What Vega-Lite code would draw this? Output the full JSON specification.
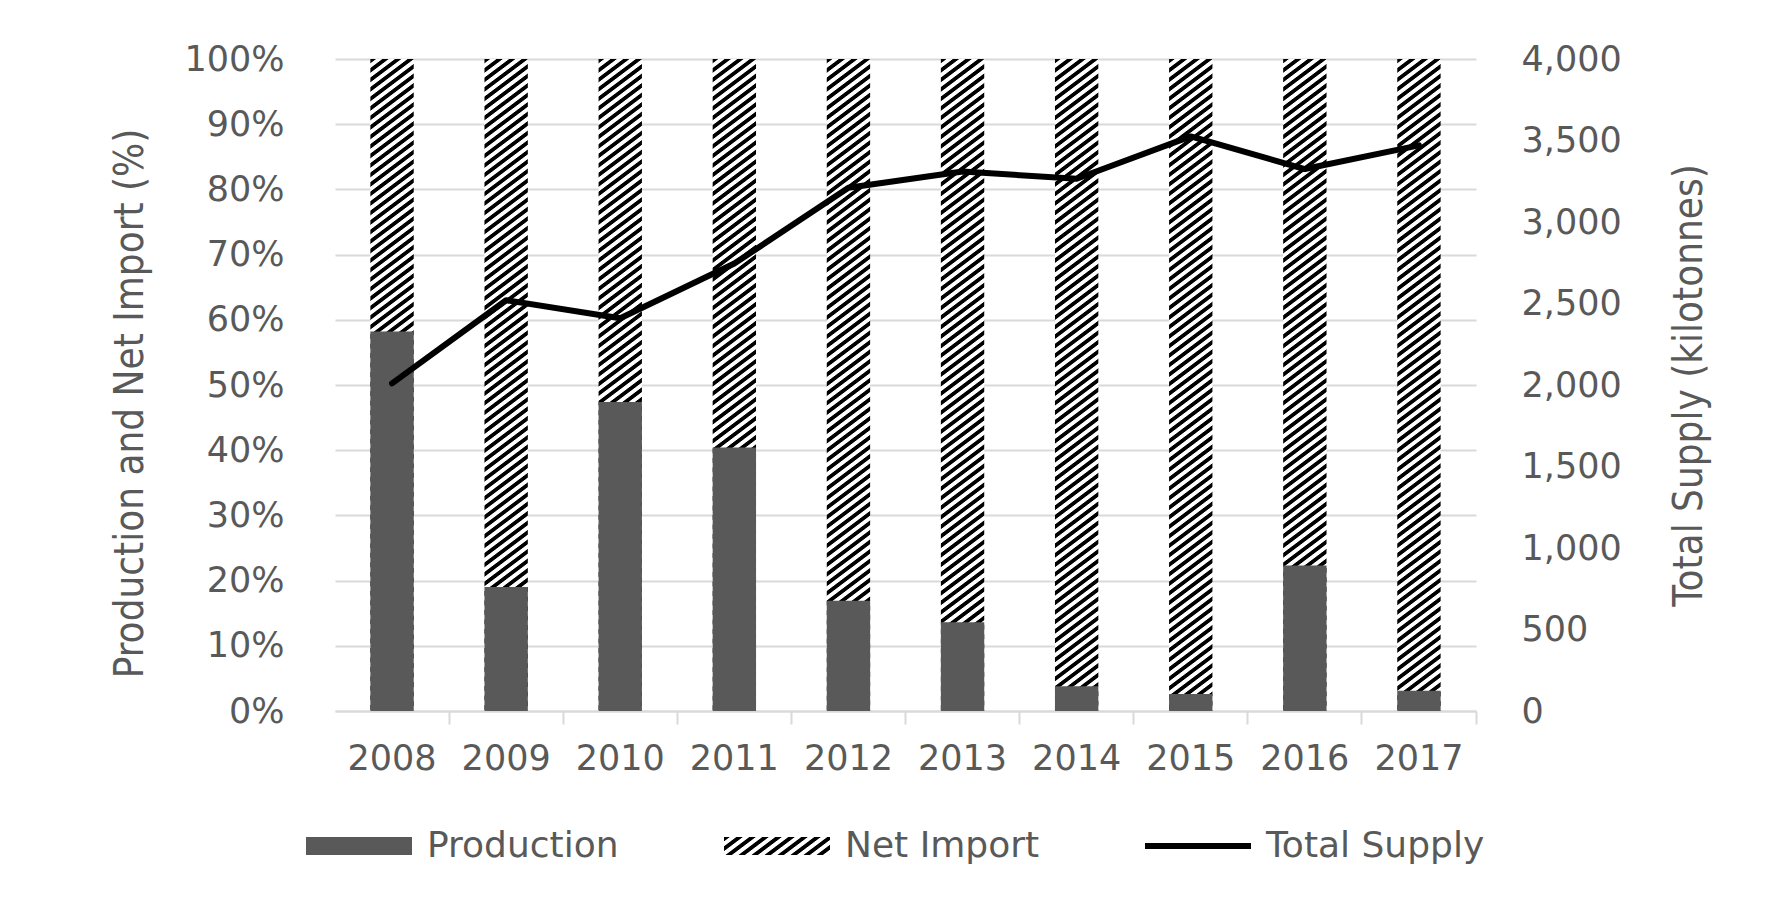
{
  "$schema": "https://vega.github.io/schema/vega-lite/v6.json",
  "width": 1141,
  "height": 652,
  "autosize": {"type": "none"},
  "padding": {"left": 335, "top": 59, "right": 304, "bottom": 191},
  "background": "#ffffff",
  "params": [
    {
      "name": "legendHatch",
      "value": {
        "gradient": "linear", "x1": 0, "y1": 0, "x2": 1.1665, "y2": 0.2637,
        "stops": [
          {"offset": 0, "color": "#000"}, {"offset": 0.04, "color": "#000"}, {"offset": 0.05, "color": "#fff"}, {"offset": 0.09, "color": "#fff"},
          {"offset": 0.1, "color": "#000"}, {"offset": 0.14, "color": "#000"}, {"offset": 0.15, "color": "#fff"}, {"offset": 0.19, "color": "#fff"},
          {"offset": 0.2, "color": "#000"}, {"offset": 0.24, "color": "#000"}, {"offset": 0.25, "color": "#fff"}, {"offset": 0.29, "color": "#fff"},
          {"offset": 0.3, "color": "#000"}, {"offset": 0.34, "color": "#000"}, {"offset": 0.35, "color": "#fff"}, {"offset": 0.39, "color": "#fff"},
          {"offset": 0.4, "color": "#000"}, {"offset": 0.44, "color": "#000"}, {"offset": 0.45, "color": "#fff"}, {"offset": 0.49, "color": "#fff"},
          {"offset": 0.5, "color": "#000"}, {"offset": 0.54, "color": "#000"}, {"offset": 0.55, "color": "#fff"}, {"offset": 0.59, "color": "#fff"},
          {"offset": 0.6, "color": "#000"}, {"offset": 0.64, "color": "#000"}, {"offset": 0.65, "color": "#fff"}, {"offset": 0.69, "color": "#fff"},
          {"offset": 0.7, "color": "#000"}, {"offset": 0.74, "color": "#000"}, {"offset": 0.75, "color": "#fff"}, {"offset": 0.79, "color": "#fff"},
          {"offset": 0.8, "color": "#000"}, {"offset": 0.84, "color": "#000"}, {"offset": 0.85, "color": "#fff"}, {"offset": 0.89, "color": "#fff"},
          {"offset": 0.9, "color": "#000"}, {"offset": 0.94, "color": "#000"}, {"offset": 0.95, "color": "#fff"}, {"offset": 0.99, "color": "#fff"},
          {"offset": 1, "color": "#000"}
        ]
      }
    }
  ],
  "datasets": {
    "shares": [
      {"year": "2008", "component": "Production", "share": 58.2},
      {"year": "2008", "component": "Net Import", "share": 41.8},
      {"year": "2009", "component": "Production", "share": 19.0},
      {"year": "2009", "component": "Net Import", "share": 81.0},
      {"year": "2010", "component": "Production", "share": 47.4},
      {"year": "2010", "component": "Net Import", "share": 52.6},
      {"year": "2011", "component": "Production", "share": 40.4},
      {"year": "2011", "component": "Net Import", "share": 59.6},
      {"year": "2012", "component": "Production", "share": 16.9},
      {"year": "2012", "component": "Net Import", "share": 83.1},
      {"year": "2013", "component": "Production", "share": 13.6},
      {"year": "2013", "component": "Net Import", "share": 86.4},
      {"year": "2014", "component": "Production", "share": 3.8},
      {"year": "2014", "component": "Net Import", "share": 96.2},
      {"year": "2015", "component": "Production", "share": 2.6},
      {"year": "2015", "component": "Net Import", "share": 97.4},
      {"year": "2016", "component": "Production", "share": 22.3},
      {"year": "2016", "component": "Net Import", "share": 77.7},
      {"year": "2017", "component": "Production", "share": 3.1},
      {"year": "2017", "component": "Net Import", "share": 96.9}
    ],
    "supply": [
      {"year": "2008", "supply": 2010},
      {"year": "2009", "supply": 2520},
      {"year": "2010", "supply": 2410},
      {"year": "2011", "supply": 2745},
      {"year": "2012", "supply": 3210},
      {"year": "2013", "supply": 3310},
      {"year": "2014", "supply": 3265},
      {"year": "2015", "supply": 3525},
      {"year": "2016", "supply": 3325},
      {"year": "2017", "supply": 3470}
    ]
  },
  "layer": [
    {
      "data": {"name": "shares"},
      "layer": [
        {
          "mark": {
            "type": "bar",
            "fill": {
              "gradient": "linear", "x1": 0, "y1": 0, "x2": 0.0524, "y2": 1.0474,
              "stops": [
                {"offset": 0, "color": "#000"}, {"offset": 0.00556, "color": "#000"}, {"offset": 0.00694, "color": "#fff"}, {"offset": 0.0125, "color": "#fff"},
                {"offset": 0.01389, "color": "#000"}, {"offset": 0.01944, "color": "#000"}, {"offset": 0.02083, "color": "#fff"}, {"offset": 0.02639, "color": "#fff"},
                {"offset": 0.02778, "color": "#000"}, {"offset": 0.03333, "color": "#000"}, {"offset": 0.03472, "color": "#fff"}, {"offset": 0.04028, "color": "#fff"},
                {"offset": 0.04167, "color": "#000"}, {"offset": 0.04722, "color": "#000"}, {"offset": 0.04861, "color": "#fff"}, {"offset": 0.05417, "color": "#fff"},
                {"offset": 0.05556, "color": "#000"}, {"offset": 0.06111, "color": "#000"}, {"offset": 0.0625, "color": "#fff"}, {"offset": 0.06806, "color": "#fff"},
                {"offset": 0.06944, "color": "#000"}, {"offset": 0.075, "color": "#000"}, {"offset": 0.07639, "color": "#fff"}, {"offset": 0.08194, "color": "#fff"},
                {"offset": 0.08333, "color": "#000"}, {"offset": 0.08889, "color": "#000"}, {"offset": 0.09028, "color": "#fff"}, {"offset": 0.09583, "color": "#fff"},
                {"offset": 0.09722, "color": "#000"}, {"offset": 0.10278, "color": "#000"}, {"offset": 0.10417, "color": "#fff"}, {"offset": 0.10972, "color": "#fff"},
                {"offset": 0.11111, "color": "#000"}, {"offset": 0.11667, "color": "#000"}, {"offset": 0.11806, "color": "#fff"}, {"offset": 0.12361, "color": "#fff"},
                {"offset": 0.125, "color": "#000"}, {"offset": 0.13056, "color": "#000"}, {"offset": 0.13194, "color": "#fff"}, {"offset": 0.1375, "color": "#fff"},
                {"offset": 0.13889, "color": "#000"}, {"offset": 0.14444, "color": "#000"}, {"offset": 0.14583, "color": "#fff"}, {"offset": 0.15139, "color": "#fff"},
                {"offset": 0.15278, "color": "#000"}, {"offset": 0.15833, "color": "#000"}, {"offset": 0.15972, "color": "#fff"}, {"offset": 0.16528, "color": "#fff"},
                {"offset": 0.16667, "color": "#000"}, {"offset": 0.17222, "color": "#000"}, {"offset": 0.17361, "color": "#fff"}, {"offset": 0.17917, "color": "#fff"},
                {"offset": 0.18056, "color": "#000"}, {"offset": 0.18611, "color": "#000"}, {"offset": 0.1875, "color": "#fff"}, {"offset": 0.19306, "color": "#fff"},
                {"offset": 0.19444, "color": "#000"}, {"offset": 0.2, "color": "#000"}, {"offset": 0.20139, "color": "#fff"}, {"offset": 0.20694, "color": "#fff"},
                {"offset": 0.20833, "color": "#000"}, {"offset": 0.21389, "color": "#000"}, {"offset": 0.21528, "color": "#fff"}, {"offset": 0.22083, "color": "#fff"},
                {"offset": 0.22222, "color": "#000"}, {"offset": 0.22778, "color": "#000"}, {"offset": 0.22917, "color": "#fff"}, {"offset": 0.23472, "color": "#fff"},
                {"offset": 0.23611, "color": "#000"}, {"offset": 0.24167, "color": "#000"}, {"offset": 0.24306, "color": "#fff"}, {"offset": 0.24861, "color": "#fff"},
                {"offset": 0.25, "color": "#000"}, {"offset": 0.25556, "color": "#000"}, {"offset": 0.25694, "color": "#fff"}, {"offset": 0.2625, "color": "#fff"},
                {"offset": 0.26389, "color": "#000"}, {"offset": 0.26944, "color": "#000"}, {"offset": 0.27083, "color": "#fff"}, {"offset": 0.27639, "color": "#fff"},
                {"offset": 0.27778, "color": "#000"}, {"offset": 0.28333, "color": "#000"}, {"offset": 0.28472, "color": "#fff"}, {"offset": 0.29028, "color": "#fff"},
                {"offset": 0.29167, "color": "#000"}, {"offset": 0.29722, "color": "#000"}, {"offset": 0.29861, "color": "#fff"}, {"offset": 0.30417, "color": "#fff"},
                {"offset": 0.30556, "color": "#000"}, {"offset": 0.31111, "color": "#000"}, {"offset": 0.3125, "color": "#fff"}, {"offset": 0.31806, "color": "#fff"},
                {"offset": 0.31944, "color": "#000"}, {"offset": 0.325, "color": "#000"}, {"offset": 0.32639, "color": "#fff"}, {"offset": 0.33194, "color": "#fff"},
                {"offset": 0.33333, "color": "#000"}, {"offset": 0.33889, "color": "#000"}, {"offset": 0.34028, "color": "#fff"}, {"offset": 0.34583, "color": "#fff"},
                {"offset": 0.34722, "color": "#000"}, {"offset": 0.35278, "color": "#000"}, {"offset": 0.35417, "color": "#fff"}, {"offset": 0.35972, "color": "#fff"},
                {"offset": 0.36111, "color": "#000"}, {"offset": 0.36667, "color": "#000"}, {"offset": 0.36806, "color": "#fff"}, {"offset": 0.37361, "color": "#fff"},
                {"offset": 0.375, "color": "#000"}, {"offset": 0.38056, "color": "#000"}, {"offset": 0.38194, "color": "#fff"}, {"offset": 0.3875, "color": "#fff"},
                {"offset": 0.38889, "color": "#000"}, {"offset": 0.39444, "color": "#000"}, {"offset": 0.39583, "color": "#fff"}, {"offset": 0.40139, "color": "#fff"},
                {"offset": 0.40278, "color": "#000"}, {"offset": 0.40833, "color": "#000"}, {"offset": 0.40972, "color": "#fff"}, {"offset": 0.41528, "color": "#fff"},
                {"offset": 0.41667, "color": "#000"}, {"offset": 0.42222, "color": "#000"}, {"offset": 0.42361, "color": "#fff"}, {"offset": 0.42917, "color": "#fff"},
                {"offset": 0.43056, "color": "#000"}, {"offset": 0.43611, "color": "#000"}, {"offset": 0.4375, "color": "#fff"}, {"offset": 0.44306, "color": "#fff"},
                {"offset": 0.44444, "color": "#000"}, {"offset": 0.45, "color": "#000"}, {"offset": 0.45139, "color": "#fff"}, {"offset": 0.45694, "color": "#fff"},
                {"offset": 0.45833, "color": "#000"}, {"offset": 0.46389, "color": "#000"}, {"offset": 0.46528, "color": "#fff"}, {"offset": 0.47083, "color": "#fff"},
                {"offset": 0.47222, "color": "#000"}, {"offset": 0.47778, "color": "#000"}, {"offset": 0.47917, "color": "#fff"}, {"offset": 0.48472, "color": "#fff"},
                {"offset": 0.48611, "color": "#000"}, {"offset": 0.49167, "color": "#000"}, {"offset": 0.49306, "color": "#fff"}, {"offset": 0.49861, "color": "#fff"},
                {"offset": 0.5, "color": "#000"}, {"offset": 0.50556, "color": "#000"}, {"offset": 0.50694, "color": "#fff"}, {"offset": 0.5125, "color": "#fff"},
                {"offset": 0.51389, "color": "#000"}, {"offset": 0.51944, "color": "#000"}, {"offset": 0.52083, "color": "#fff"}, {"offset": 0.52639, "color": "#fff"},
                {"offset": 0.52778, "color": "#000"}, {"offset": 0.53333, "color": "#000"}, {"offset": 0.53472, "color": "#fff"}, {"offset": 0.54028, "color": "#fff"},
                {"offset": 0.54167, "color": "#000"}, {"offset": 0.54722, "color": "#000"}, {"offset": 0.54861, "color": "#fff"}, {"offset": 0.55417, "color": "#fff"},
                {"offset": 0.55556, "color": "#000"}, {"offset": 0.56111, "color": "#000"}, {"offset": 0.5625, "color": "#fff"}, {"offset": 0.56806, "color": "#fff"},
                {"offset": 0.56944, "color": "#000"}, {"offset": 0.575, "color": "#000"}, {"offset": 0.57639, "color": "#fff"}, {"offset": 0.58194, "color": "#fff"},
                {"offset": 0.58333, "color": "#000"}, {"offset": 0.58889, "color": "#000"}, {"offset": 0.59028, "color": "#fff"}, {"offset": 0.59583, "color": "#fff"},
                {"offset": 0.59722, "color": "#000"}, {"offset": 0.60278, "color": "#000"}, {"offset": 0.60417, "color": "#fff"}, {"offset": 0.60972, "color": "#fff"},
                {"offset": 0.61111, "color": "#000"}, {"offset": 0.61667, "color": "#000"}, {"offset": 0.61806, "color": "#fff"}, {"offset": 0.62361, "color": "#fff"},
                {"offset": 0.625, "color": "#000"}, {"offset": 0.63056, "color": "#000"}, {"offset": 0.63194, "color": "#fff"}, {"offset": 0.6375, "color": "#fff"},
                {"offset": 0.63889, "color": "#000"}, {"offset": 0.64444, "color": "#000"}, {"offset": 0.64583, "color": "#fff"}, {"offset": 0.65139, "color": "#fff"},
                {"offset": 0.65278, "color": "#000"}, {"offset": 0.65833, "color": "#000"}, {"offset": 0.65972, "color": "#fff"}, {"offset": 0.66528, "color": "#fff"},
                {"offset": 0.66667, "color": "#000"}, {"offset": 0.67222, "color": "#000"}, {"offset": 0.67361, "color": "#fff"}, {"offset": 0.67917, "color": "#fff"},
                {"offset": 0.68056, "color": "#000"}, {"offset": 0.68611, "color": "#000"}, {"offset": 0.6875, "color": "#fff"}, {"offset": 0.69306, "color": "#fff"},
                {"offset": 0.69444, "color": "#000"}, {"offset": 0.7, "color": "#000"}, {"offset": 0.70139, "color": "#fff"}, {"offset": 0.70694, "color": "#fff"},
                {"offset": 0.70833, "color": "#000"}, {"offset": 0.71389, "color": "#000"}, {"offset": 0.71528, "color": "#fff"}, {"offset": 0.72083, "color": "#fff"},
                {"offset": 0.72222, "color": "#000"}, {"offset": 0.72778, "color": "#000"}, {"offset": 0.72917, "color": "#fff"}, {"offset": 0.73472, "color": "#fff"},
                {"offset": 0.73611, "color": "#000"}, {"offset": 0.74167, "color": "#000"}, {"offset": 0.74306, "color": "#fff"}, {"offset": 0.74861, "color": "#fff"},
                {"offset": 0.75, "color": "#000"}, {"offset": 0.75556, "color": "#000"}, {"offset": 0.75694, "color": "#fff"}, {"offset": 0.7625, "color": "#fff"},
                {"offset": 0.76389, "color": "#000"}, {"offset": 0.76944, "color": "#000"}, {"offset": 0.77083, "color": "#fff"}, {"offset": 0.77639, "color": "#fff"},
                {"offset": 0.77778, "color": "#000"}, {"offset": 0.78333, "color": "#000"}, {"offset": 0.78472, "color": "#fff"}, {"offset": 0.79028, "color": "#fff"},
                {"offset": 0.79167, "color": "#000"}, {"offset": 0.79722, "color": "#000"}, {"offset": 0.79861, "color": "#fff"}, {"offset": 0.80417, "color": "#fff"},
                {"offset": 0.80556, "color": "#000"}, {"offset": 0.81111, "color": "#000"}, {"offset": 0.8125, "color": "#fff"}, {"offset": 0.81806, "color": "#fff"},
                {"offset": 0.81944, "color": "#000"}, {"offset": 0.825, "color": "#000"}, {"offset": 0.82639, "color": "#fff"}, {"offset": 0.83194, "color": "#fff"},
                {"offset": 0.83333, "color": "#000"}, {"offset": 0.83889, "color": "#000"}, {"offset": 0.84028, "color": "#fff"}, {"offset": 0.84583, "color": "#fff"},
                {"offset": 0.84722, "color": "#000"}, {"offset": 0.85278, "color": "#000"}, {"offset": 0.85417, "color": "#fff"}, {"offset": 0.85972, "color": "#fff"},
                {"offset": 0.86111, "color": "#000"}, {"offset": 0.86667, "color": "#000"}, {"offset": 0.86806, "color": "#fff"}, {"offset": 0.87361, "color": "#fff"},
                {"offset": 0.875, "color": "#000"}, {"offset": 0.88056, "color": "#000"}, {"offset": 0.88194, "color": "#fff"}, {"offset": 0.8875, "color": "#fff"},
                {"offset": 0.88889, "color": "#000"}, {"offset": 0.89444, "color": "#000"}, {"offset": 0.89583, "color": "#fff"}, {"offset": 0.90139, "color": "#fff"},
                {"offset": 0.90278, "color": "#000"}, {"offset": 0.90833, "color": "#000"}, {"offset": 0.90972, "color": "#fff"}, {"offset": 0.91528, "color": "#fff"},
                {"offset": 0.91667, "color": "#000"}, {"offset": 0.92222, "color": "#000"}, {"offset": 0.92361, "color": "#fff"}, {"offset": 0.92917, "color": "#fff"},
                {"offset": 0.93056, "color": "#000"}, {"offset": 0.93611, "color": "#000"}, {"offset": 0.9375, "color": "#fff"}, {"offset": 0.94306, "color": "#fff"},
                {"offset": 0.94444, "color": "#000"}, {"offset": 0.95, "color": "#000"}, {"offset": 0.95139, "color": "#fff"}, {"offset": 0.95694, "color": "#fff"},
                {"offset": 0.95833, "color": "#000"}, {"offset": 0.96389, "color": "#000"}, {"offset": 0.96528, "color": "#fff"}, {"offset": 0.97083, "color": "#fff"},
                {"offset": 0.97222, "color": "#000"}, {"offset": 0.97778, "color": "#000"}, {"offset": 0.97917, "color": "#fff"}, {"offset": 0.98472, "color": "#fff"},
                {"offset": 0.98611, "color": "#000"}, {"offset": 0.99167, "color": "#000"}, {"offset": 0.99306, "color": "#fff"}, {"offset": 0.99861, "color": "#fff"},
                {"offset": 1, "color": "#000"}
              ]
            }
          },
          "encoding": {
            "x": {
              "field": "year", "type": "ordinal",
              "scale": {"paddingInner": 0.62, "paddingOuter": 0.31},
              "axis": {
                "title": null, "labelAngle": 0, "bandPosition": 1.8158,
                "domainColor": "#d9d9d9", "domainWidth": 2,
                "tickColor": "#d9d9d9", "tickWidth": 2, "tickSize": 13,
                "labelPadding": 17, "grid": false
              }
            },
            "y": {
              "aggregate": "sum", "field": "share", "type": "quantitative",
              "scale": {"domain": [0, 100], "nice": false},
              "axis": {
                "orient": "left",
                "title": "Production and Net Import (%)",
                "values": [0, 10, 20, 30, 40, 50, 60, 70, 80, 90, 100],
                "labelExpr": "datum.value + '%'",
                "grid": true, "gridColor": "#d9d9d9", "gridWidth": 2,
                "domain": false, "ticks": false, "tickSize": 0,
                "labelPadding": 51, "titlePadding": 33, "titleY": 344
              }
            }
          }
        },
        {
          "transform": [{"filter": "datum.component === 'Production'"}],
          "mark": {"type": "bar"},
          "encoding": {
            "x": {"field": "year", "type": "ordinal"},
            "y": {"field": "share", "type": "quantitative"},
            "color": {
              "field": "component", "type": "nominal",
              "scale": {"domain": ["Production"], "range": ["#595959"]},
              "legend": null
            },
            "opacity": {
              "field": "component", "type": "nominal",
              "scale": {
                "domain": ["Production", "Net Import", "Total Supply"],
                "range": [1, 1, 1]
              },
              "legend": {
                "title": null, "orient": "none", "direction": "horizontal",
                "legendX": -32, "legendY": 769, "padding": 0,
                "clipHeight": 36, "symbolSize": 11236, "symbolOffset": 0,
                "labelOffset": 12, "columnPadding": 102,
                "labelFont": "DejaVu Sans", "labelFontSize": 36, "labelColor": "#595959",
                "labelLimit": 400,
                "symbolOpacity": 1,
                "symbolStrokeWidth": 6,
                "symbolType": {"expr": "datum.value === 'Total Supply' ? 'M-1,0H1' : 'M-1,-0.17H1V0.17H-1Z'"},
                "symbolFillColor": {"expr": "datum.value === 'Net Import' ? legendHatch : (datum.value === 'Total Supply' ? 'transparent' : '#595959')"},
                "symbolStrokeColor": {"expr": "datum.value === 'Total Supply' ? '#000000' : 'transparent'"}
              }
            }
          }
        }
      ]
    },
    {
      "data": {"name": "supply"},
      "mark": {"type": "line", "color": "#000000", "strokeWidth": 6, "strokeJoin": "round", "strokeCap": "round"},
      "encoding": {
        "x": {"field": "year", "type": "ordinal"},
        "y": {
          "field": "supply", "type": "quantitative",
          "scale": {"domain": [0, 4000], "nice": false},
          "axis": {
            "orient": "right",
            "title": "Total Supply (kilotonnes)",
            "titleAngle": 270, "titleBaseline": "top",
            "values": [0, 500, 1000, 1500, 2000, 2500, 3000, 3500, 4000],
            "format": ",.0f",
            "grid": false, "domain": false, "ticks": false, "tickSize": 0,
            "labelPadding": 45, "titlePadding": 48
          }
        }
      }
    }
  ],
  "resolve": {"scale": {"y": "independent"}},
  "config": {
    "view": {"stroke": null},
    "axis": {
      "labelFont": "DejaVu Sans",
      "labelFontSize": 35,
      "labelColor": "#595959",
      "titleFont": "Liberation Sans Narrow, DejaVu Sans Condensed, sans-serif",
      "titleFontSize": 40,
      "titleFontWeight": "normal",
      "titleColor": "#595959",
      "labelLimit": 300
    }
  }
}
